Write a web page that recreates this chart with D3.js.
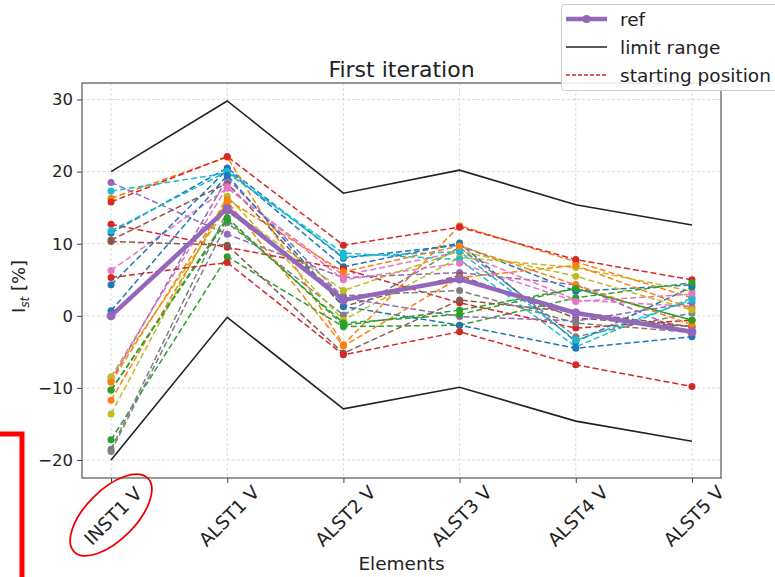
<!DOCTYPE html>
<html><head><meta charset="utf-8">
<script src="https://cdn.jsdelivr.net/npm/d3@7/dist/d3.min.js"></script>
<style>body{margin:0;background:#fff;} svg{display:block;font-family:"DejaVu Sans",sans-serif;}</style>
</head><body><svg id="c" width="775" height="577"></svg>
<script>
const categories = ["INST1 V","ALST1 V","ALST2 V","ALST3 V","ALST4 V","ALST5 V"];
const refValues = [0, 14.9, 2.2, 5.1, 0.4, -2.2];
const upperLimit = [20, 29.8, 17.0, 20.2, 15.4, 12.6];
const lowerLimit = [-20, -0.2, -12.9, -9.9, -14.6, -17.4];
const startingPositions = [
  [11.5, 20.5, 8.0, 9.8, 3.4, 4.3],
  [16.3, 22.0, -4.0, 12.5, 7.5, 2.5],
  [-10.3, 13.6, -1.3, 0.8, 3.8, -0.6],
  [15.8, 22.1, 9.8, 12.3, 7.8, 5.0],
  [18.5, 11.3, 5.3, 6.0, 4.3, -2.6],
  [10.5, 18.4, 1.3, 5.6, -0.3, -1.5],
  [6.3, 17.7, 5.6, 8.9, 2.2, 1.3],
  [-18.8, 12.9, 0.1, 9.5, -2.9, 0.4],
  [-13.6, 16.6, -0.6, 8.1, 6.7, 3.4],
  [17.3, 19.8, 8.7, 7.8, -4.3, 2.5],
  [4.3, 20.3, 6.8, 10.1, -3.6, 4.0],
  [-11.7, 15.9, -4.2, 5.3, 7.0, 1.0],
  [-17.2, 8.2, -1.5, -1.3, 2.5, 4.6],
  [12.7, 9.5, 6.5, 1.8, -1.7, -0.6],
  [-9.0, 19.1, 2.5, -0.1, -0.7, 1.8],
  [10.3, 9.8, -5.2, 2.2, 0.5, -1.5],
  [-8.5, 17.9, 5.0, 7.3, 2.0, 3.0],
  [-18.5, 14.5, 2.8, 3.5, -1.0, -2.3],
  [-8.5, 15.0, 3.5, 9.0, 5.5, 0.8],
  [11.8, 20.0, 8.2, 8.9, -3.4, 2.2],
  [0.7, 19.5, 1.3, -1.3, -4.5, -2.9],
  [-9.2, 16.1, 6.1, 9.7, 4.3, -1.2],
  [-10.3, 13.3, -1.0, 0.2, 3.8, -0.6],
  [5.3, 7.4, -5.4, -2.2, -6.8, -9.8]
];
const yTicks = [-20, -10, 0, 10, 20, 30];
const titleText = "First iteration";
const xLabelText = "Elements";
const legendLabels = ["ref", "limit range", "starting position"];

const svg = d3.select("#c");
const L = 82, R = 721, T = 83, B = 478;
const x = d3.scaleLinear().domain([-0.25, categories.length - 1 + 0.25]).range([L, R]);
const y = d3.scaleLinear().domain([-22.49, 32.29]).range([B, T]);
const colors = d3.schemeCategory10;
const fmt = d => d < 0 ? "\u2212" + Math.abs(d) : String(d);

// grid
const grid = svg.append("g");
grid.selectAll("line.h").data(yTicks).enter().append("line")
  .attr("x1", L).attr("x2", R).attr("y1", d => y(d)).attr("y2", d => y(d))
  .attr("stroke", "#d4d4d4").attr("stroke-width", 0.8).attr("stroke-dasharray", "3,2");
grid.selectAll("line.v").data(categories).enter().append("line")
  .attr("y1", T).attr("y2", B).attr("x1", (d, i) => x(i)).attr("x2", (d, i) => x(i))
  .attr("stroke", "#d4d4d4").attr("stroke-width", 0.8).attr("stroke-dasharray", "3,2");

const line = d3.line().x((d, i) => x(i)).y(d => y(d));

// starting positions
const sp = svg.append("g");
startingPositions.forEach((s, k) => {
  const c = colors[k % 10];
  sp.append("path").attr("d", line(s)).attr("fill", "none").attr("stroke", c)
    .attr("stroke-width", 1.5).attr("stroke-dasharray", "6,3");
  sp.selectAll(null).data(s).enter().append("circle")
    .attr("cx", (d, i) => x(i)).attr("cy", d => y(d)).attr("r", 3.5).attr("fill", c);
});

// limits
[upperLimit, lowerLimit].forEach(s => {
  svg.append("path").attr("d", line(s)).attr("fill", "none").attr("stroke", "#222").attr("stroke-width", 1.6);
});

// ref
svg.append("path").attr("d", line(refValues)).attr("fill", "none").attr("stroke", "#9467bd").attr("stroke-width", 4.5);
svg.selectAll(null).data(refValues).enter().append("circle")
  .attr("cx", (d, i) => x(i)).attr("cy", d => y(d)).attr("r", 4.5).attr("fill", "#9467bd");

// frame
svg.append("rect").attr("x", L).attr("y", T).attr("width", R - L).attr("height", B - T)
  .attr("fill", "none").attr("stroke", "#555").attr("stroke-width", 1.2);

// y axis
const ya = svg.append("g").attr("transform", `translate(${L},0)`)
  .call(d3.axisLeft(y).tickValues(yTicks).tickSize(5).tickPadding(4).tickFormat(fmt));
ya.select(".domain").remove();
ya.selectAll("line").attr("stroke", "#444");
ya.selectAll("text").attr("font-size", 16.5).attr("fill", "#222").attr("font-family", "DejaVu Sans");

// x axis
const xa = svg.append("g").attr("transform", `translate(0,${B})`)
  .call(d3.axisBottom(x).tickValues(d3.range(categories.length)).tickSize(5).tickFormat(""));
xa.select(".domain").remove();
xa.selectAll("line").attr("stroke", "#444");
svg.append("g").selectAll("text").data(categories).enter().append("text")
  .attr("transform", (d, i) => `translate(${x(i) + 2},${516}) rotate(-45)`)
  .attr("text-anchor", "middle").attr("dominant-baseline", "central")
  .attr("font-size", 18.5).attr("fill", "#222").text(d => d);

// labels
svg.append("text").attr("x", (L + R) / 2).attr("y", 77).attr("text-anchor", "middle")
  .attr("font-size", 22).attr("fill", "#222").text(titleText);
svg.append("text").attr("x", (L + R) / 2).attr("y", 570).attr("text-anchor", "middle")
  .attr("font-size", 18.5).attr("fill", "#222").text(xLabelText);
const yl = svg.append("text").attr("transform", `translate(25,${(T + B) / 2 + 6}) rotate(-90)`)
  .attr("text-anchor", "middle").attr("font-size", 18).attr("fill", "#222");
yl.append("tspan").text("I");
yl.append("tspan").attr("font-style", "italic").attr("font-size", 12).attr("dy", 4).text("st");
yl.append("tspan").attr("dy", -4).text(" [%]");

// legend
const lg = svg.append("g");
lg.append("rect").attr("x", 561.5).attr("y", 4.5).attr("width", 230).attr("height", 86).attr("rx", 3)
  .attr("fill", "#fff").attr("fill-opacity", 0.85).attr("stroke", "#ccc");
const ly = [19, 47, 75];
lg.append("line").attr("x1", 566).attr("x2", 607).attr("y1", ly[0]).attr("y2", ly[0]).attr("stroke", "#9467bd").attr("stroke-width", 4.5);
lg.append("circle").attr("cx", 586.5).attr("cy", ly[0]).attr("r", 4).attr("fill", "#9467bd");
lg.append("line").attr("x1", 566).attr("x2", 607).attr("y1", ly[1]).attr("y2", ly[1]).attr("stroke", "#222").attr("stroke-width", 1.6);
lg.append("line").attr("x1", 566).attr("x2", 607).attr("y1", ly[2]).attr("y2", ly[2]).attr("stroke", "#d62728").attr("stroke-width", 1.5).attr("stroke-dasharray", "4,2");
lg.selectAll("text").data(legendLabels).enter().append("text")
  .attr("x", 620).attr("y", (d, i) => ly[i]).attr("dominant-baseline", "central")
  .attr("font-size", 18.5).attr("fill", "#222").text(d => d);

// red annotations
svg.append("path").attr("d", "M0,434 L22,434 L22,577").attr("fill", "none").attr("stroke", "#ff0000").attr("stroke-width", 5);
svg.append("ellipse").attr("cx", 0).attr("cy", 0).attr("rx", 52).attr("ry", 25)
  .attr("transform", "translate(111,515) rotate(-45)")
  .attr("fill", "none").attr("stroke", "#e00").attr("stroke-width", 1.8);
</script></body></html>
